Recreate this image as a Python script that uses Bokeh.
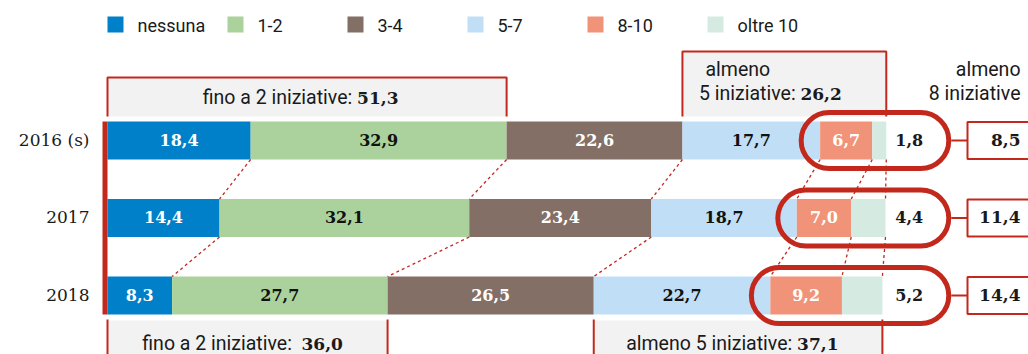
from bokeh.plotting import figure
from bokeh.models import Range1d, BoxAnnotation
from bokeh.core.properties import value
from bokeh.embed import file_html
from bokeh.resources import INLINE

# --- data -----------------------------------------------------------------
years = ["2016 (s)", "2017", "2018"]
categories = ["nessuna", "1-2", "3-4", "5-7", "8-10", "oltre 10"]
nessuna = [18.4, 14.4, 8.3]
uno_due = [32.9, 32.1, 27.7]
tre_quattro = [22.6, 23.4, 26.5]
cinque_sette = [17.7, 18.7, 22.7]
otto_dieci = [6.7, 7.0, 9.2]
oltre_dieci = [1.8, 4.4, 5.2]

series = [nessuna, uno_due, tre_quattro, cinque_sette, otto_dieci, oltre_dieci]
colors = ["#0080c8", "#abd29c", "#846f66", "#c0dff7", "#f19378", "#d5ebe2"]
label_colors = ["#ffffff", "#111111", "#ffffff", "#111111", "#ffffff", "#111111"]

RED = "#c3281c"
GREY = "#f2f2f2"
INK = "#1a1a1a"
SANS = value("Roboto")
SLAB = value("DejaVu Serif")
NOTE_SIZE = "19.5px"

# --- canvas geometry ------------------------------------------------------
W, H = 1028, 354
X0 = 107          # pixel column where 0 % sits
SCALE = 7.78      # pixels per percentage point
PX = 1 / SCALE    # one pixel in data units


def xp(px):
    """fixed horizontal position, in pixels from the left edge"""
    return (px - X0) * PX


def yp(px):
    """vertical position, in pixels from the top edge"""
    return H - px


def fmt(v):
    return f"{v:.1f}".replace(".", ",")


ROW_TOP, ROW_STEP, BAR_H = 140, 77.5, 38
yc = [yp(ROW_TOP + ROW_STEP * i) for i in range(len(years))]

# cumulative boundaries per year
cum = []
for i in range(len(years)):
    edges = [0.0]
    for s in series:
        edges.append(round(edges[-1] + s[i], 1))
    cum.append(edges)
totals = [c[-1] for c in cum]
max_total = max(totals)

p = figure(width=W, height=H,
           x_range=Range1d(xp(0), xp(W)), y_range=Range1d(0, H),
           output_backend="svg", toolbar_location=None,
           min_border=0, outline_line_color=None,
           background_fill_color="white", border_fill_color="white")
p.axis.visible = False
p.grid.visible = False

# --- legend ---------------------------------------------------------------
for k, (name, col) in enumerate(zip(categories, colors)):
    p.rect(x=[xp(115 + 120 * k)], y=[yp(24)], width=16 * PX, height=16,
           fill_color=col, line_color=None)
    p.text(x=[xp(137 + 120 * k)], y=[yp(24.5)], text=[name],
           text_font=SANS, text_font_size="18px", text_color=INK,
           text_align="left", text_baseline="middle")

# --- bracket boxes above and below the bars -------------------------------
fino_2016 = round(nessuna[0] + uno_due[0], 1)
almeno5_2016 = round(cinque_sette[0] + otto_dieci[0] + oltre_dieci[0], 1)
fino_2018 = round(nessuna[2] + uno_due[2], 1)
almeno5_2018 = round(cinque_sette[2] + otto_dieci[2] + oltre_dieci[2], 1)

a5_left_2016 = cum[0][3]
a5_left_2018 = cum[2][3]

# top: "fino a 2" and "almeno 5"
for left, right, top in [(0, fino_2016, 77), (a5_left_2016, totals[0], 51)]:
    p.quad(left=[left], right=[right], top=[yp(top)], bottom=[yp(116)],
           fill_color=GREY, line_color=None)
    p.line(x=[left, left, right, right], y=[yp(116), yp(top), yp(top), yp(116)],
           line_color=RED, line_width=2)

# bottom: "fino a 2" and "almeno 5"
for left, right in [(0, fino_2018), (a5_left_2018, totals[2])]:
    p.quad(left=[left], right=[right], top=[yp(320)], bottom=[yp(360)],
           fill_color=GREY, line_color=None)
    p.segment(x0=[left, right], x1=[left, right], y0=[yp(319), yp(319)],
              y1=[yp(360), yp(360)], line_color=RED, line_width=2)

# --- stacked bars ---------------------------------------------------------
for k, col in enumerate(colors):
    lefts = [cum[i][k] for i in range(len(years))]
    rights = [cum[i][k + 1] for i in range(len(years))]
    p.hbar(y=yc, left=lefts, right=rights, height=BAR_H,
           fill_color=col, line_color=None)

# red rule on the left of the bars
p.quad(left=[-5 * PX], right=[0], top=[yc[0] + BAR_H / 2],
       bottom=[yc[-1] - BAR_H / 2], fill_color=RED, line_color=None)

# dashed links between matching boundaries of consecutive years
x0s, y0s, x1s, y1s = [], [], [], []
for i in range(len(years) - 1):
    for k in range(1, len(series) + 1):
        x0s.append(cum[i][k]); y0s.append(yc[i] - BAR_H / 2)
        x1s.append(cum[i + 1][k]); y1s.append(yc[i + 1] + BAR_H / 2)
p.segment(x0=x0s, y0=y0s, x1=x1s, y1=y1s, line_color=RED,
          line_width=1.3, line_dash="3 3")

# values inside the segments
for k in range(len(series) - 1):
    xs = [(cum[i][k] + cum[i][k + 1]) / 2 for i in range(len(years))]
    p.text(x=xs, y=[y + 1 for y in yc], text=[fmt(v) for v in series[k]],
           text_font=SLAB, text_font_style="bold", text_font_size="16px",
           text_color=label_colors[k], text_align="center",
           text_baseline="middle")

# "oltre 10" values sit just right of the bars
p.text(x=[max_total] * len(years), y=[y + 1 for y in yc],
       text=[fmt(v) for v in oltre_dieci], x_offset=23,
       text_font=SLAB, text_font_style="bold", text_font_size="16px",
       text_color=INK, text_align="center", text_baseline="middle")

# year labels
p.text(x=[0] * len(years), y=[y + 1 for y in yc], text=years, x_offset=-18,
       text_font=SLAB, text_font_size="17px", text_color=INK,
       text_align="right", text_baseline="middle")

# --- bracket texts --------------------------------------------------------
def split_label(x, y, prefix, number, split_off):
    p.text(x=[x], y=[y], text=[prefix], x_offset=split_off + 1,
           text_font=SANS, text_font_size=NOTE_SIZE, text_color=INK,
           text_align="right", text_baseline="middle")
    p.text(x=[x], y=[y], text=[number], x_offset=split_off + 1,
           text_font=SLAB, text_font_style="bold", text_font_size="17px",
           text_color=INK, text_align="left", text_baseline="middle")


split_label(fino_2016 / 2, yp(97), "fino a 2 iniziative: ", fmt(fino_2016), 49)
p.text(x=[a5_left_2016], y=[yp(69)], text=["almeno"], x_offset=23,
       text_font=SANS, text_font_size=NOTE_SIZE, text_color=INK,
       text_align="left", text_baseline="middle")
split_label(a5_left_2016, yp(93), "5 iniziative: ", fmt(almeno5_2016), 117)
split_label(fino_2018 / 2, yp(343), "fino a  2 iniziative: ", fmt(fino_2018), 53)
split_label((a5_left_2018 + totals[2]) / 2, yp(343), "almeno 5 iniziative: ",
            fmt(almeno5_2018), 58)

p.text(x=[xp(1020)] * 2, y=[yp(69), yp(93)], text=["almeno", "8 iniziative"],
       text_font=SANS, text_font_size=NOTE_SIZE, text_color=INK,
       text_align="right", text_baseline="middle")

# --- "almeno 8" rings and totals -----------------------------------------
ring_right = max_total + 62.5 * PX
box_left, box_right = xp(967), xp(1040)
almeno8 = [round(otto_dieci[i] + oltre_dieci[i], 1) for i in range(len(years))]
for i in range(len(years)):
    p.add_layout(BoxAnnotation(left=cum[i][4] - 19 * PX, right=ring_right,
                               top=yc[i] + 28, bottom=yc[i] - 28,
                               border_radius=28, fill_color=None,
                               fill_alpha=0, line_color=RED, line_alpha=1,
                               line_width=5))

p.segment(x0=[ring_right + 2.5 * PX] * 3, x1=[box_left] * 3, y0=yc, y1=yc,
          line_color=RED, line_width=2)
p.quad(left=[box_left] * 3, right=[box_right] * 3,
       top=[y + 18.5 for y in yc], bottom=[y - 18.5 for y in yc],
       fill_color="white", line_color=RED, line_width=2)
p.text(x=[xp(1020)] * 3, y=[y + 1 for y in yc], text=[fmt(v) for v in almeno8],
       text_font=SLAB, text_font_style="bold", text_font_size="17px",
       text_color=INK, text_align="right", text_baseline="middle")

open("out.html", "w").write(file_html(p, INLINE))
